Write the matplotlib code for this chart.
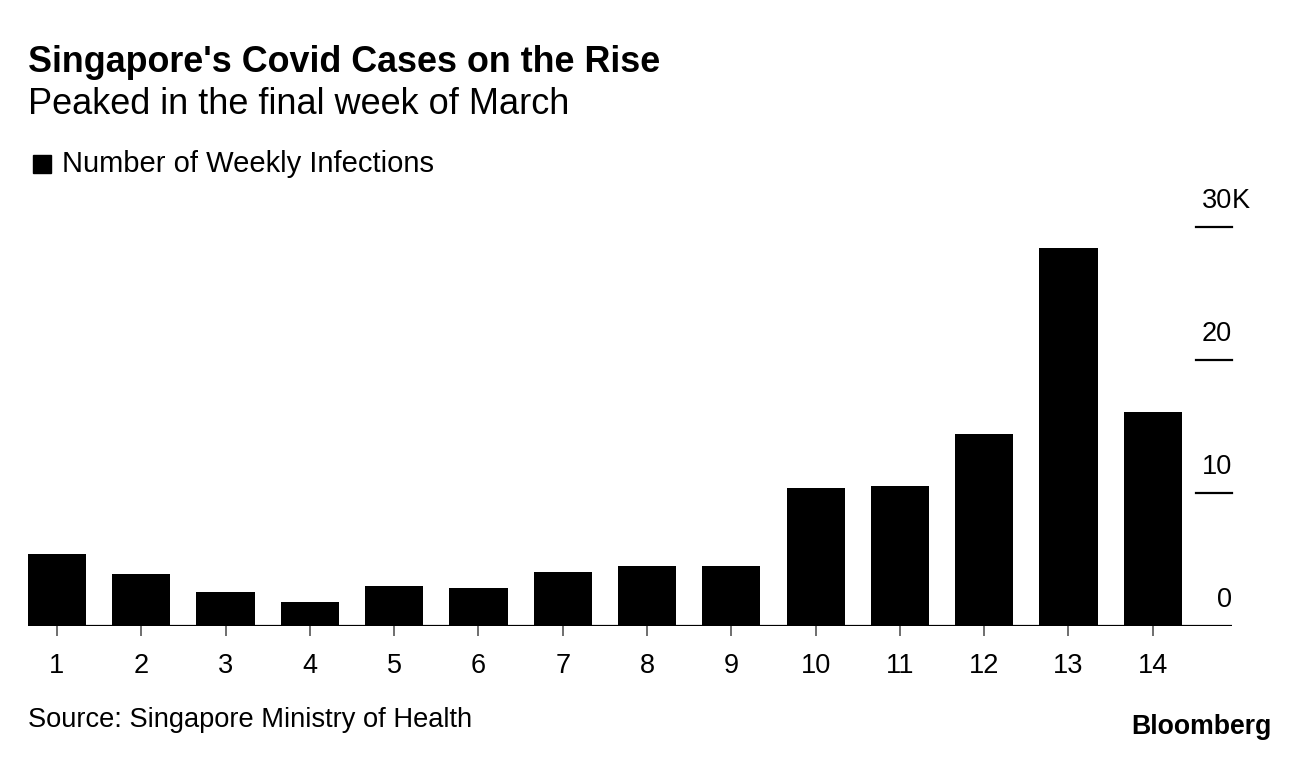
import matplotlib
matplotlib.use("Agg")
import matplotlib.pyplot as plt
import matplotlib.transforms as mtransforms

plt.rcParams['font.family'] = ['Liberation Sans', 'DejaVu Sans']

# ================= data =================
weeks = list(range(1, 15))
weekly_cases = [5400, 3900, 2550, 1800, 3000, 2850, 4050, 4500, 4500,
                10400, 10500, 14400, 28400, 16100]
y_ticks = [0, 10000, 20000, 30000]
y_tick_labels = ['0', '10', '20', '30']

# ================= figure =================
fig = plt.figure(figsize=(12.96, 7.6), dpi=100)
ax = fig.add_axes([28 / 1296, 1 - 626 / 760, 1204 / 1296, (626 - 227) / 760])

ax.bar(weeks, weekly_cases, width=0.69, color='black', zorder=3)
ax.set_xlim(0.656, 14.94)
ax.set_ylim(0, 30000)

for s in ax.spines.values():
    s.set_visible(False)
ax.axhline(0, color='black', lw=1.6, zorder=2)

ax.set_xticks(weeks)
ax.set_xticklabels([str(w) for w in weeks])
ax.tick_params(axis='x', length=7.5, width=1.2, color='#555555', pad=12,
               labelsize=19.5, labelcolor='black')
ax.set_yticks([])

# right-hand value labels sitting on short rules (numbers right-aligned to rule end)
trans = mtransforms.blended_transform_factory(ax.transAxes, ax.transData)
for v, lab in zip(y_ticks, y_tick_labels):
    if v > 0:
        ax.plot([0.9705, 1.0], [v, v], color='black', lw=1.6, transform=trans,
                clip_on=False, zorder=4)
    ax.annotate(lab, xy=(1.0, v), xycoords=trans, xytext=(0, 19),
                textcoords='offset points', ha='right', va='center',
                fontsize=19.5, color='black')
# unit suffix on the top label
ax.annotate('K', xy=(1.0, y_ticks[-1]), xycoords=trans, xytext=(0, 19),
            textcoords='offset points', ha='left', va='center',
            fontsize=19.5, color='black')

# ================= text =================
fig.text(28 / 1296, 1 - 62 / 760, "Singapore's Covid Cases on the Rise",
         fontsize=25.8, fontweight='bold', va='center', ha='left')
fig.text(28 / 1296, 1 - 104 / 760, "Peaked in the final week of March",
         fontsize=26, va='center', ha='left')

fig.patches.append(plt.Rectangle((33 / 1296, 1 - 173 / 760), 18 / 1296, 18 / 760,
                                 transform=fig.transFigure, color='black'))
fig.text(62 / 1296, 1 - 164 / 760, "Number of Weekly Infections",
         fontsize=21, va='center', ha='left')

fig.text(28 / 1296, 1 - 720 / 760, "Source: Singapore Ministry of Health",
         fontsize=19.6, va='center', ha='left')
fig.text(1272 / 1296, 1 - 727 / 760, "Bloomberg",
         fontsize=19.2, fontweight='bold', va='center', ha='right')

fig.savefig('out.png', dpi=100)
